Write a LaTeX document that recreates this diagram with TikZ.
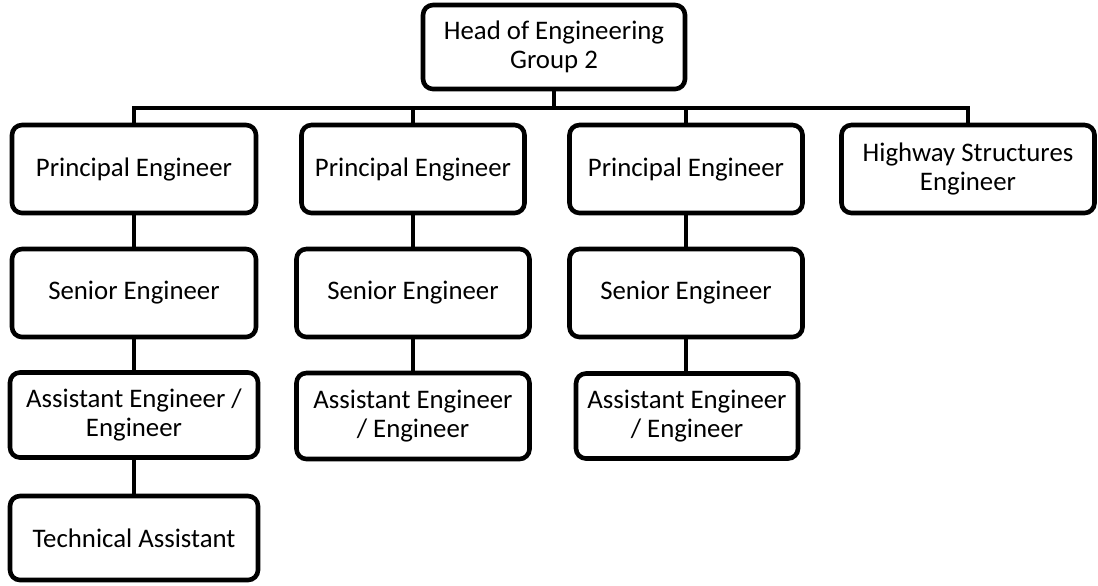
\documentclass[tikz,border=0pt]{standalone}
\usepackage{fontspec}
\setmainfont{Carlito}
\tikzset{
	post/.style={draw, line width=2.3pt, rounded corners=5pt, align=center, inner sep=0pt,
			font=\fontsize{13.4}{14.2}\selectfont},
	link/.style={line width=2.1pt}
}

\begin{document}
\begin{tikzpicture}[x=0.5pt, y=-0.5pt]
			\useasboundingbox (0,0) rectangle (1098,585);

			\node[post, minimum width=131pt, minimum height=42pt] (head) at (554,47) {Head of Engineering\\Group 2};
			\coordinate (bar) at (0,108);

			\node[post, minimum width=122pt, minimum height=44pt] (prinA) at (134,169) {Principal Engineer};
			\node[post, minimum width=122pt, minimum height=44pt] (seniA) at (134,293) {Senior Engineer};
			\node[post, minimum width=124pt, minimum height=42.5pt] (asstA) at (134,415) {Assistant Engineer /\\Engineer};
			\node[post, minimum width=124pt, minimum height=42pt] (techA) at (134,538) {Technical Assistant};

			\node[post, minimum width=111.5pt, minimum height=44pt] (prinB) at (413,169) {Principal Engineer};
			\node[post, minimum width=116.5pt, minimum height=44pt] (seniB) at (413,293) {Senior Engineer};
			\node[post, minimum width=116.5pt, minimum height=43pt] (asstB) at (413,416) {Assistant Engineer\\/ Engineer};

			\node[post, minimum width=116.5pt, minimum height=44pt] (prinC) at (686,169) {Principal Engineer};
			\node[post, minimum width=116.5pt, minimum height=44pt] (seniC) at (686,293) {Senior Engineer};
			\node[post, minimum width=111pt, minimum height=42.5pt] (asstC) at (687,416) {Assistant Engineer\\/ Engineer};

			\node[post, minimum width=126.5pt, minimum height=44pt] (hwy) at (968,169) {Highway Structures\\Engineer};

			\draw[link]	(head.south) to (head.south |- bar);
			\draw[link]	(prinA.north) -- (prinA.north |- bar) -- (hwy.north |- bar) -- (hwy.north);
			\draw[link]	(prinB.north) to (prinB.north |- bar);
			\draw[link]	(prinC.north) to (prinC.north |- bar);

			\draw[link]	(prinA) to (seniA);
			\draw[link]	(seniA) to (asstA);
			\draw[link]	(asstA) to (techA);
			\draw[link]	(prinB) to (seniB);
			\draw[link]	(seniB) to (asstB);
			\draw[link]	(prinC) to (seniC);
			\draw[link]	(seniC.south) to (seniC.south |- asstC.north);
		\end{tikzpicture}
\end{document}
